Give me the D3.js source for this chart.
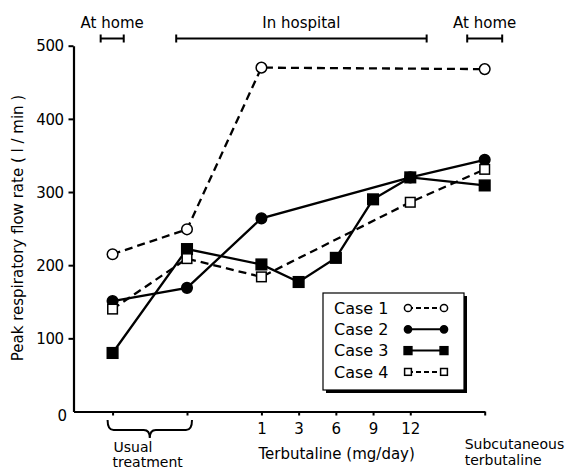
<!DOCTYPE html>
<html>
<head>
<meta charset="utf-8">
<script src="https://cdn.jsdelivr.net/npm/d3@7"></script>
<style>
  body { margin: 0; background: #fff; }
  text { font-family: "DejaVu Sans", sans-serif; fill: #000; }
</style>
</head>
<body>
<div id="chart"></div>
<script>
// slots along the x axis (usual treatment x2, terbutaline doses, subcutaneous)
const xSlots = [0, 2, 4, 5, 6, 7, 8, 10];
const xLabels = ["", "", "1", "3", "6", "9", "12", ""];
const yTicks = [0, 100, 200, 300, 400, 500];

// peak flow values (l/min), null where not measured
const case1 = [215, 249, 470, null, null, null, null, 468];
const case2 = [151, 169, 264, null, null, null, 320, 344];
const case3 = [80, 222, 201, 177, 210, 290, 320, 309];
const case4 = [140, 209, 184, null, null, null, 286, 331];

const caseNames = ["Case 1", "Case 2", "Case 3", "Case 4"];

let width = 577;
let height = 470;

let svg = d3.select("#chart").append("svg")
  .attr("width", width)
  .attr("height", height);

let x = d3.scaleLinear().domain([-1.05, 10]).range([73.5, 484.7]);
let y = d3.scaleLinear().domain([0, 500]).range([411.5, 45.7]);

// axes
let xAxis = svg.append("g")
  .attr("transform", `translate(0,${y(0)})`)
  .call(d3.axisBottom(x).tickValues(xSlots).tickSize(4).tickSizeOuter(0)
    .tickFormat((d, i) => xLabels[i]));
xAxis.select(".domain").attr("stroke-width", 2.2);
xAxis.selectAll(".tick line").attr("stroke-width", 2);
xAxis.selectAll(".tick text").attr("dy", "1.05em").style("font-size", "15px").style("font-family", "DejaVu Sans");

let yAxis = svg.append("g")
  .attr("transform", `translate(${x(-1.05)},0)`)
  .call(d3.axisLeft(y).tickValues(yTicks).tickSize(5).tickSizeOuter(0).tickPadding(5));
yAxis.select(".domain").attr("stroke-width", 2.2);
yAxis.selectAll(".tick line").attr("stroke-width", 2).style("display", d => d === 0 ? "none" : null);
yAxis.selectAll(".tick text").style("font-size", "15px").style("font-family", "DejaVu Sans")
  .attr("x", d => d === 0 ? -7 : -10).attr("dy", d => d === 0 ? "0.6em" : "0.35em")
  .attr("letter-spacing", "-0.5px");

svg.append("text")
  .attr("transform", "translate(23,228) rotate(-90)")
  .attr("text-anchor", "middle")
  .style("font-size", "15px")
  .text("Peak respiratory flow rate ( l / min )");

// bottom labels
let brace = d3.path();
let b0 = x(0) - 5, b1 = x(2) + 5, bm = (b0 + b1) / 2;
brace.moveTo(b0, 420);
brace.quadraticCurveTo(b0, 430, b0 + 6, 430);
brace.lineTo(bm - 6, 430);
brace.quadraticCurveTo(bm, 430, bm, 438);
brace.quadraticCurveTo(bm, 430, bm + 6, 430);
brace.lineTo(b1 - 6, 430);
brace.quadraticCurveTo(b1, 430, b1, 420);
svg.append("path").attr("d", brace.toString())
  .attr("fill", "none").attr("stroke", "#000").attr("stroke-width", 2);

svg.append("text").attr("x", x(0) + 1).attr("y", 452).style("font-size", "14px").text("Usual");
svg.append("text").attr("x", x(0)).attr("y", 467).style("font-size", "14px").text("treatment");
svg.append("text").attr("x", x(4) - 3).attr("y", 459).style("font-size", "15px").text("Terbutaline (mg/day)");
svg.append("text").attr("x", x(10) - 20).attr("y", 449).style("font-size", "14px").text("Subcutaneous");
svg.append("text").attr("x", x(10) - 20).attr("y", 465).style("font-size", "14px").text("terbutaline");

// top brackets
let periods = [
  {label: "At home", from: -0.32, to: 0.3},
  {label: "In hospital", from: 1.71, to: 8.44},
  {label: "At home", from: 9.53, to: 10.47}
];
let topG = svg.append("g");
periods.forEach(p => {
  let x0 = x(p.from), x1 = x(p.to);
  topG.append("line").attr("x1", x0).attr("x2", x1).attr("y1", 38.5).attr("y2", 38.5)
    .attr("stroke", "#000").attr("stroke-width", 2);
  [x0, x1].forEach(xx => topG.append("line").attr("x1", xx).attr("x2", xx).attr("y1", 34.5).attr("y2", 42.5)
    .attr("stroke", "#000").attr("stroke-width", 2));
  topG.append("text").attr("x", (x0 + x1) / 2).attr("y", 28).attr("text-anchor", "middle")
    .style("font-size", "15px").text(p.label);
});

// series
let series = [
  {name: caseNames[0], values: case1, dash: "8,5", marker: "circle", fill: "#fff"},
  {name: caseNames[1], values: case2, dash: null, marker: "circle", fill: "#000"},
  {name: caseNames[2], values: case3, dash: null, marker: "square", fill: "#000"},
  {name: caseNames[3], values: case4, dash: "8,5", marker: "square", fill: "#fff"}
];

let line = d3.line().x(d => x(d.slot)).y(d => y(d.v));

function drawMarker(g, s, cx, cy, size) {
  if (s.marker == "circle") {
    g.append("circle").attr("cx", cx).attr("cy", cy).attr("r", size)
      .attr("fill", s.fill).attr("stroke", "#000").attr("stroke-width", 1.5);
  } else {
    let half = s.fill == "#000" ? size + 0.5 : size;
    g.append("rect").attr("x", cx - half).attr("y", cy - half).attr("width", half * 2).attr("height", half * 2)
      .attr("fill", s.fill).attr("stroke", "#000").attr("stroke-width", 1.5);
  }
}

let plot = svg.append("g");
series.forEach(s => {
  let pts = s.values.map((v, i) => ({slot: xSlots[i], v: v})).filter(d => d.v != null);
  plot.append("path").datum(pts).attr("d", line)
    .attr("fill", "none").attr("stroke", "#000").attr("stroke-width", 2.3)
    .attr("stroke-dasharray", s.dash);
  s.pts = pts;
});
series.forEach(s => {
  s.pts.forEach(d => drawMarker(plot, s, x(d.slot), y(d.v), s.marker == "circle" ? 5.3 : 4.8));
});

// legend
let legend = svg.append("g");
legend.append("rect").attr("x", 326).attr("y", 296).attr("width", 141).attr("height", 97).attr("fill", "#000");
legend.append("rect").attr("x", 323).attr("y", 293).attr("width", 141).attr("height", 97)
  .attr("fill", "#fff").attr("stroke", "#000").attr("stroke-width", 1.2);
series.forEach((s, i) => {
  let ly = 308 + i * 21.3;
  legend.append("text").attr("x", 334).attr("y", ly).attr("dy", "0.36em")
    .style("font-size", "16px").text(s.name);
  legend.append("line").attr("x1", 408).attr("x2", 444).attr("y1", ly).attr("y2", ly)
    .attr("stroke", "#000").attr("stroke-width", 2).attr("stroke-dasharray", s.dash ? "5,3" : null);
  drawMarker(legend, s, 408, ly, s.marker == "circle" ? 3.6 : 3.4);
  drawMarker(legend, s, 444, ly, s.marker == "circle" ? 3.6 : 3.4);
});
</script>
</body>
</html>
